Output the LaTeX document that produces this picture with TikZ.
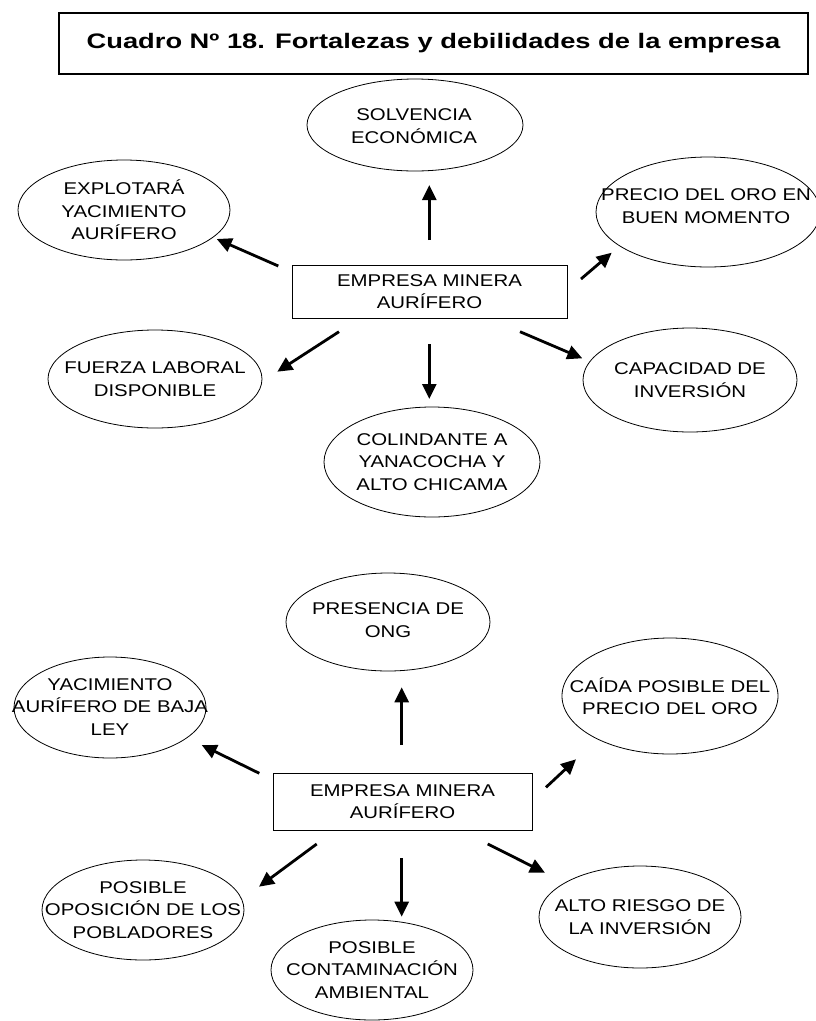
\documentclass[tikz,border=0pt]{standalone}
\usepackage{fontspec}
\setmainfont{Liberation Sans}[FakeStretch=1.2]
\newfontfamily\titlefont{Liberation Sans}[FakeStretch=1.3]
\usetikzlibrary{shapes.geometric,arrows.meta}

\tikzset{
  bub/.style={draw, ellipse, line width=0.8pt, inner sep=0pt},
  lbl/.style={align=center, inner sep=0pt, font=\fontsize{17}{22.5}\selectfont},
  hub/.style={draw, line width=1pt, inner sep=0pt, align=center,
              font=\fontsize{17}{22.5}\selectfont},
  arr/.style={line width=2.8pt, -{Triangle[length=15pt,width=14pt]}},
}

\begin{document}
\begin{tikzpicture}[x=1pt, y=-1pt]
\useasboundingbox (0,0) rectangle (816,1021);

% Title
\node[draw, line width=2pt, minimum width=749pt, minimum height=61pt, inner sep=0pt,
      font=\titlefont\fontsize{21}{24}\selectfont\bfseries] (title) at (433.5,43.3)
      {Cuadro Nº 18. Fortalezas y debilidades de la empresa};

% ---------- Fortalezas ----------
\node[hub, minimum width=275pt, minimum height=53pt] (hubA) at (429.5,291.5)
      {EMPRESA MINERA\\AURÍFERO};

\node[bub, minimum width=216pt, minimum height=92pt] (solv) at (415,125) {};
\node[lbl] (solvT) at (414,126) {SOLVENCIA\\ECONÓMICA};

\node[bub, minimum width=212pt, minimum height=100pt] (expl) at (124,210) {};
\node[lbl] (explT) at (124,210) {EXPLOTARÁ\\YACIMIENTO\\AURÍFERO};

\node[bub, minimum width=224pt, minimum height=110pt] (prec) at (708,212) {};
\node[lbl] (precT) at (706,206) {PRECIO DEL ORO EN\\BUEN MOMENTO};

\node[bub, minimum width=214pt, minimum height=98pt] (fuer) at (155,379) {};
\node[lbl] (fuerT) at (155,379) {FUERZA LABORAL\\DISPONIBLE};

\node[bub, minimum width=216pt, minimum height=110pt] (coli) at (432,462) {};
\node[lbl] (coliT) at (432,462) {COLINDANTE A\\YANACOCHA Y\\ALTO CHICAMA};

\node[bub, minimum width=214pt, minimum height=104pt] (capa) at (690,380) {};
\node[lbl] (capaT) at (690,380) {CAPACIDAD DE\\INVERSIÓN};

% arrow end points
\coordinate (a1s) at (429.3,240);   \coordinate (a1e) at (429.3,185);
\coordinate (a2s) at (278.3,266);   \coordinate (a2e) at (216.7,239);
\coordinate (a3s) at (581,279);     \coordinate (a3e) at (611.7,252.7);
\coordinate (a4s) at (339,331.7);   \coordinate (a4e) at (277.3,371.7);
\coordinate (a5s) at (429.3,344);   \coordinate (a5e) at (429.3,399);
\coordinate (a6s) at (520,331.7);   \coordinate (a6e) at (582.3,358.3);
\foreach \i in {1,...,6} \draw[arr] (a\i s) -- (a\i e);

% ---------- Debilidades ----------
\node[hub, minimum width=259pt, minimum height=57pt] (hubB) at (402.5,801.5)
      {EMPRESA MINERA\\AURÍFERO};

\node[bub, minimum width=204pt, minimum height=98pt] (pres) at (388,622) {};
\node[lbl] (presT) at (388,620) {PRESENCIA DE\\ONG};

\node[bub, minimum width=192pt, minimum height=101pt] (yaci) at (110,707.5) {};
\node[lbl] (yaciT) at (110,707) {YACIMIENTO\\AURÍFERO DE BAJA\\LEY};

\node[bub, minimum width=216pt, minimum height=116pt] (caid) at (670,696) {};
\node[lbl] (caidT) at (670,696) {CAÍDA POSIBLE DEL\\PRECIO DEL ORO};

\node[bub, minimum width=202pt, minimum height=100pt] (opos) at (143,910) {};
\node[lbl] (oposT) at (143,910) {POSIBLE\\OPOSICIÓN DE LOS\\POBLADORES};

\node[bub, minimum width=202pt, minimum height=100pt] (cont) at (372,970) {};
\node[lbl] (contT) at (372,970) {POSIBLE\\CONTAMINACIÓN\\AMBIENTAL};

\node[bub, minimum width=202pt, minimum height=102pt] (alto) at (640,917) {};
\node[lbl] (altoT) at (640,917) {ALTO RIESGO DE\\LA INVERSIÓN};

\coordinate (b1s) at (401.7,745);   \coordinate (b1e) at (401.7,687.3);
\coordinate (b2s) at (259.3,773.3); \coordinate (b2e) at (201.7,745);
\coordinate (b3s) at (546,787.3);   \coordinate (b3e) at (576,759.3);
\coordinate (b4s) at (316.7,844);   \coordinate (b4e) at (259,886.7);
\coordinate (b5s) at (401.7,858.3); \coordinate (b5e) at (401.7,916.7);
\coordinate (b6s) at (487.7,844);   \coordinate (b6e) at (545,872.7);
\foreach \i in {1,...,6} \draw[arr] (b\i s) -- (b\i e);
\end{tikzpicture}
\end{document}
